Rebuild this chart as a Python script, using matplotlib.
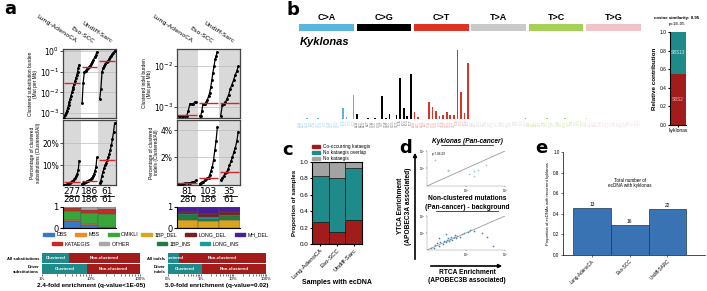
import matplotlib
matplotlib.use('Agg')
import matplotlib.pyplot as plt
from matplotlib.patches import Patch, FancyArrowPatch

W, H = 707, 291

# ---------------- data ----------------
cancers = ['Lung-AdenoCA', 'Eso-SCC', 'Undiff-Sarc']

# a: clustered substitution burden (Mut per Mb), sorted per cancer
sub_burden_lung = [0.0006, 0.0008, 0.001, 0.0013, 0.0018, 0.0025, 0.0035, 0.005, 0.007, 0.01,
                   0.014, 0.019, 0.026, 0.035, 0.05, 0.07, 0.1, 0.15, 0.22]
sub_burden_eso = [0.003, 0.03, 0.1, 0.11, 0.13, 0.15, 0.17, 0.2, 0.24, 0.3, 0.38, 0.5, 0.65, 0.9]
sub_burden_sarc = [0.005, 0.015, 0.1, 0.15, 0.2, 0.25, 0.3, 0.33, 0.4, 0.5, 0.6, 0.7, 0.85, 1.0]
sub_burden_median = [0.028, 0.17, 0.33]

# a: percentage of clustered substitutions
sub_pct_lung = [1.0, 1.1, 1.2, 1.4, 1.6, 1.8, 2.0, 2.3, 2.6, 3.0, 3.5, 4.2, 5.0, 6.2, 8.0, 12.0]
sub_pct_eso = [1.5, 1.8, 2.0, 2.3, 2.5, 2.7, 2.9, 3.1, 3.4, 3.8, 4.3, 5.0, 6.0, 7.5, 9.0, 13.5]
sub_pct_sarc = [1.8, 3.0, 5.0, 7.0, 8.5, 10, 11, 12.3, 13.5, 15, 17, 19, 22, 25, 29]
sub_pct_median = [2.3, 2.9, 12.3]

# a: clustered indel burden (Mut per Mb)
ind_burden_lung = [0.0006, 0.0006, 0.0006, 0.0006, 0.0006, 0.0006, 0.0008, 0.0012, 0.0012,
                   0.0012, 0.0013, 0.0013]
ind_burden_eso = [0.0006, 0.0006, 0.0008, 0.0012, 0.0012, 0.0012, 0.0013, 0.0015, 0.0018,
                  0.0022, 0.003, 0.0045, 0.007, 0.01, 0.015, 0.018, 0.023]
ind_burden_sarc = [0.0006, 0.0011, 0.0012, 0.0013, 0.0016, 0.002, 0.0028, 0.0035, 0.0045,
                   0.006, 0.0075, 0.01]
ind_burden_median = [0.00063, 0.00126, 0.00126]

# a: percentage of clustered indels
ind_pct_lung = [0.03, 0.05, 0.06, 0.08, 0.1, 0.12, 0.15, 0.2, 0.3]
ind_pct_eso = [0.05, 0.1, 0.15, 0.2, 0.3, 0.4, 0.45, 0.5, 0.7, 1.0, 1.3, 1.8, 2.5, 3.2, 4.2]
ind_pct_sarc = [0.3, 0.45, 0.6, 0.8, 0.9, 1.1, 1.4, 1.7, 2.0, 2.4, 2.7, 3.2, 3.9]
ind_pct_median = [0.1, 0.45, 0.9]

sub_n_clustered = [277, 186, 61]
sub_n_total = [280, 186, 61]
ind_n_clustered = [81, 103, 35]
ind_n_total = [280, 186, 61]

# a: class proportions
sub_dbs = [0.35, 0.16, 0.05]
sub_mbs = [0.02, 0.02, 0.01]
sub_omikli = [0.43, 0.55, 0.59]
sub_kataegis = [0.15, 0.12, 0.24]
sub_other = [0.05, 0.15, 0.11]

ind_1bp_del = [0.40, 0.33, 0.40]
ind_1bp_ins = [0.20, 0.12, 0.15]
ind_long_ins = [0.05, 0.07, 0.05]
ind_long_del = [0.12, 0.15, 0.15]
ind_mh_del = [0.23, 0.33, 0.25]

# a: clustered share (%) of all vs driver events
sub_rows = ['All substitutions', 'Driver\nsubstitutions']
sub_clustered_pct = [3.5, 8.4]
ind_rows = ['All indels', 'Driver\nindels']
ind_clustered_pct = [0.22, 1.1]

# b: kyklonas SBS96 signature
sig_ca = [0, 0, 1, 0, 0, 1, 0, 0, 0, 0, 0, 0, 11, 2, 0, 23]
sig_cg = [5, 0, 0, 1, 0, 1, 0, 22, 1, 5, 0, 4, 40, 11, 3, 44]
sig_ct = [7, 2, 0, 0, 17, 12, 8, 3, 4, 7, 4, 4, 67, 26, 6, 54]
sig_ta = [0, 0, 0, 0, 0, 0, 0, 0, 0, 0, 0, 0, 0, 0, 0, 1]
sig_tc = [0, 0, 0, 0, 0, 1, 0, 0, 0, 0, 1, 0, 0, 0, 0, 0]
sig_tg = [1, 0, 0, 0, 0, 0, 0, 0, 0, 0, 0, 0, 0, 0, 0, 0]
sig_blocks = ['C>A', 'C>G', 'C>T', 'T>A', 'T>C', 'T>G']
decomp_sbs2 = 0.55
decomp_sbs13 = 0.45

# c: ecDNA samples
c_cooccur = [0.27, 0.15, 0.29]
c_no_overlap = [0.56, 0.65, 0.64]
c_no_kataegis = [0.17, 0.20, 0.07]

# d: APOBEC enrichment (RTCA vs YTCA)
d_top_rtca = [0.16, 0.34, 0.35, 1.6, 2.0, 1.6, 3.2, 1.2]
d_top_ytca = [3.0, 0.8, 0.7, 0.7, 0.8, 0.35, 1.6, 0.5]
d_bot_rtca = [0.13, 0.15, 0.16, 0.2, 0.18, 0.25, 0.22, 0.28, 0.3, 0.32, 0.36, 0.4, 0.35, 0.45, 0.5,
              0.42, 0.55, 0.6, 0.52, 0.7, 0.8, 0.9, 1.1, 1.3, 1.6, 2.5, 3.5, 0.3, 0.2, 5.0]
d_bot_ytca = [0.14, 0.13, 0.2, 0.18, 0.25, 0.22, 0.3, 0.35, 0.28, 0.4, 0.33, 0.45, 0.5, 0.4, 0.55,
              0.6, 0.5, 0.7, 0.8, 0.62, 0.9, 1.0, 1.2, 1.6, 1.3, 1.0, 0.6, 0.9, 0.5, 0.18]

# e: ecDNA with recurrent kyklonas
e_labels = ['Lung-AdenoCA', 'Eso-SCC', 'Undiff-SARC']
e_prop = [0.46, 0.29, 0.45]
e_counts = [13, 16, 22]

# ---------------- helpers ----------------
fig = plt.figure(figsize=(W / 100, H / 100), dpi=100)
LS = 'Liberation Sans'


def px_axes(x0, y0, x1, y1, **kw):
    return fig.add_axes([x0 / W, 1 - y1 / H, (x1 - x0) / W, (y1 - y0) / H], **kw)


def ftext(x, y, s, **kw):
    fig.text(x / W, 1 - y / H, s, **kw)


def ls_ticks(ax):
    for t in ax.get_xticklabels() + ax.get_yticklabels():
        t.set_family(LS)


RED = '#d62728'
TEAL = '#1f8a8a'
DRED = '#a31c1c'


def dot_panel(ax, series, medians, ylim, log=True):
    for i in (0, 2):
        ax.axvspan(i - 0.5, i + 0.5, color='#d9d9d9', zorder=0, lw=0)
    for i, vals in enumerate(series):
        vals = sorted(vals)
        n = len(vals)
        xs = [i - 0.42 + 0.84 * k / (n - 1) for k in range(n)]
        ax.plot(xs, vals, '-o', color='black', ms=1.1, lw=0.9, zorder=3)
        ax.hlines(medians[i], i - 0.45, i + 0.45, color=RED, lw=1.0, zorder=4)
    if log:
        ax.set_yscale('log')
    ax.set_ylim(*ylim)
    ax.set_xlim(-0.5, 2.5)
    ax.set_xticks([])
    ax.minorticks_off()
    ax.grid(axis='y', color='#bbbbbb', lw=0.5, zorder=1)
    ax.tick_params(axis='y', labelsize=5.5, length=2, width=0.5, pad=1)
    for s in ax.spines.values():
        s.set_color('#444444')
        s.set_linewidth(0.9)


def counts(x0, x1, top, bottom):
    for i in range(3):
        xc = x0 + (x1 - x0) * (i + 0.5) / 3
        ftext(xc, 192, str(top[i]), ha='center', va='center', fontsize=6.5)
        ftext(xc, 200, str(bottom[i]), ha='center', va='center', fontsize=6.5)
        fig.add_artist(plt.Line2D([(xc - 7) / W, (xc + 7) / W], [1 - 196 / H] * 2,
                                  color='black', lw=0.6))


def stack_panel(ax, layers, colors):
    bottom = [0, 0, 0]
    for vals, col in zip(layers, colors):
        ax.bar(range(3), vals, bottom=bottom, width=1.0, color=col, edgecolor='#555555', lw=0.3)
        bottom = [b + v for b, v in zip(bottom, vals)]
    ax.set_xlim(-0.5, 2.5)
    ax.set_ylim(0, 1)
    ax.set_xticks([])
    ax.set_yticks([0, 1])
    ax.tick_params(axis='y', labelsize=6, length=2, pad=1)
    for s in ['top', 'right']:
        ax.spines[s].set_visible(False)


def legend_row(names, colors, xc, y, ncol):
    fig.legend([Patch(color=c) for c in colors], names, ncol=ncol, loc='center',
               bbox_to_anchor=(xc / W, 1 - y / H), prop={'family': LS, 'size': 3.8},
               frameon=False, handlelength=2.0, handleheight=0.55, columnspacing=1.6,
               handletextpad=0.5, borderpad=0)


def enrich_panel(ax, rows, pct, lo, ticks, ticklabels, title):
    ys = [1, 0]
    ax.barh(ys, [p - lo for p in pct], left=lo, height=0.92, color=TEAL)
    ax.barh(ys, [100 - p for p in pct], left=pct, height=0.92, color=DRED)
    ax.set_xscale('log')
    ax.set_xlim(lo, 100)
    ax.set_ylim(-0.5, 1.5)
    for y, p in zip(ys, pct):
        ax.text((lo * p) ** 0.5, y, 'Clustered', color='white', fontsize=3.2, fontweight='bold',
                ha='center', va='center', family=LS)
        ax.text((p * 100) ** 0.5, y, 'Non-clustered', color='white', fontsize=3.2,
                fontweight='bold', ha='center', va='center', family=LS)
    ax.set_yticks(ys)
    ax.set_yticklabels(rows, fontsize=3, fontweight='bold')
    ax.set_xticks(ticks)
    ax.set_xticklabels(ticklabels, fontsize=3.2)
    ls_ticks(ax)
    ax.tick_params(axis='x', which='both', length=1.5, width=0.4, pad=1)
    ax.tick_params(axis='y', length=0, pad=2)
    for s in ax.spines.values():
        s.set_visible(False)
    ax.set_xlabel(title, fontsize=4.6, fontweight='bold', labelpad=1, family=LS)


def ylab(ax, text):
    ax.set_ylabel(text, fontsize=3.5, labelpad=1, family=LS, linespacing=1.1)


# ---------------- panel a ----------------
ftext(4, 9, 'a', fontsize=13, fontweight='bold', va='center')

for x0, x1 in [(63, 116), (177, 240)]:
    for i, name in enumerate(cancers):
        xc = x0 + (x1 - x0) * (i + 0.5) / 3
        fig.text((xc + 3) / W, 1 - 44 / H, name, rotation=-33, rotation_mode='anchor',
                 ha='right', va='bottom', fontsize=4.6)

ax = px_axes(63, 49, 116, 118)
dot_panel(ax, [sub_burden_lung, sub_burden_eso, sub_burden_sarc], sub_burden_median,
          (10 ** -3.24, 10 ** 0.1))
ax.set_yticks([1e-3, 1e-2, 1e-1, 1])
ylab(ax, 'Clustered substitution burden\n(Mut per Mb)')

ax = px_axes(63, 120, 116, 185)
dot_panel(ax, [sub_pct_lung, sub_pct_eso, sub_pct_sarc], sub_pct_median, (1, 30.5), log=False)
ax.set_yticks([10, 20])
ax.set_yticklabels(['10%', '20%'])
ylab(ax, 'Percentage of clustered\nsubstitutions (Clustered/All)')

ax = px_axes(177, 49, 240, 118)
dot_panel(ax, [ind_burden_lung, ind_burden_eso, ind_burden_sarc], ind_burden_median,
          (10 ** -3.275, 10 ** -1.575))
ax.set_yticks([1e-3, 1e-2])
ylab(ax, 'Clustered indel burden\n(Mut per Mb)')

ax = px_axes(177, 120, 240, 185)
dot_panel(ax, [ind_pct_lung, ind_pct_eso, ind_pct_sarc], ind_pct_median, (-0.05, 4.75), log=False)
ax.set_yticks([2, 4])
ax.set_yticklabels(['2%', '4%'])
ylab(ax, 'Percentage of clustered\nindels (Clustered/All)')

counts(63, 116, sub_n_clustered, sub_n_total)
counts(177, 240, ind_n_clustered, ind_n_total)

sub_cols = ['#3a78c4', '#f08a24', '#3aa53a', '#c62a22', '#a8a8a8']
ax = px_axes(63, 207, 116, 228)
stack_panel(ax, [sub_dbs, sub_mbs, sub_omikli, sub_kataegis, sub_other], sub_cols)
legend_row(['DBS', 'MBS', 'OMIKLI'], sub_cols[:3], 91, 235, 3)
legend_row(['KATAEGIS', 'OTHER'], sub_cols[3:], 91, 244, 2)

ind_cols = ['#d9a520', '#1e7f3a', '#1f9a96', '#7a1e22', '#4b1e99']
ax = px_axes(177, 207, 240, 228)
stack_panel(ax, [ind_1bp_del, ind_1bp_ins, ind_long_ins, ind_long_del, ind_mh_del], ind_cols)
legend_row(['1BP_DEL', 'LONG_DEL', 'MH_DEL'], [ind_cols[0], ind_cols[3], ind_cols[4]], 205, 235, 3)
legend_row(['1BP_INS', 'LONG_INS'], [ind_cols[1], ind_cols[2]], 198, 244, 2)

ax = px_axes(42, 253, 140, 274)
enrich_panel(ax, sub_rows, sub_clustered_pct, 1, [1, 10, 100], ['1%', '10%', '100%'],
             '2.4-fold enrichment (q-value<1E-05)')
ax = px_axes(168, 253, 266, 274)
enrich_panel(ax, ind_rows, ind_clustered_pct, 0.1, [0.1, 1, 10, 100],
             ['0%', '1%', '10%', '100%'], '5.0-fold enrichment (q-value=0.02)')

# ---------------- panel b ----------------
ftext(287, 10, 'b', fontsize=13, fontweight='bold', va='center')
blk_cols = ['#5ab4dc', '#000000', '#dd3327', '#c9c9c9', '#a8cf58', '#efc4c8']
lbl_cols = ['#9fd3ea', '#777777', '#ee9a92', '#dddddd', '#cfe4a0', '#f5dadd']

ax = px_axes(298, 24, 642, 31)
for i, (name, col) in enumerate(zip(sig_blocks, blk_cols)):
    ax.bar(i * 16 + 7.5, 1, width=15.2, color=col)
    ax.text(i * 16 + 7.5, 1.25, name, ha='center', va='bottom', fontsize=6.5, fontweight='bold',
            family=LS)
ax.set_xlim(-0.5, 95.5)
ax.set_ylim(0, 1)
ax.axis('off')

ax = px_axes(298, 47, 642, 119)
sig_all = [sig_ca, sig_cg, sig_ct, sig_ta, sig_tc, sig_tg]
for b, vals in enumerate(sig_all):
    ref = sig_blocks[b][0]
    xs = [b * 16 + k for k in range(16)]
    ax.bar(xs, vals, width=0.45, color=blk_cols[b] if b != 3 else '#999999')
    ctx = [f'{p}{ref}{q}' for p in 'ACGT' for q in 'ACGT']
    for x, c in zip(xs, ctx):
        ax.text(x, -1.5, c, rotation=90, fontsize=2.2, ha='center', va='top', color=lbl_cols[b])
ax.set_xlim(-0.5, 95.5)
ax.set_ylim(0, 70)
ax.axis('off')
ftext(300, 42, 'Kyklonas', fontsize=8, fontweight='bold', style='italic', va='center', family=LS)

ax = px_axes(670, 32, 686, 125)
ax.bar([0], [decomp_sbs2], width=1, color=DRED)
ax.bar([0], [decomp_sbs13], bottom=[decomp_sbs2], width=1, color=TEAL)
ax.text(0, decomp_sbs2 / 2, 'SBS2', color='#f4b0b0', fontsize=3.3, ha='center', va='center',
        family=LS)
ax.text(0, decomp_sbs2 + decomp_sbs13 / 2, 'SBS13', color='#cdeeee', fontsize=3.3,
        ha='center', va='center', family=LS)
ax.set_xlim(-0.5, 0.5)
ax.set_ylim(0, 1)
ax.set_yticks([0, 0.2, 0.4, 0.6, 0.8, 1.0])
ax.tick_params(labelsize=3.5, length=1.5, pad=1)
ax.set_xticks([0])
ax.set_xticklabels(['kyklonas'], fontsize=3.5)
ls_ticks(ax)
ax.set_ylabel('Relative contribution', fontsize=4.5, labelpad=2, family=LS, fontweight='bold')
for s in ['top', 'right']:
    ax.spines[s].set_visible(False)
ftext(677, 18, 'cosine similarity: 0.95', ha='center', va='center', fontsize=3.2,
      fontweight='bold', family=LS)
ftext(677, 24, 'p=1E-05', ha='center', va='center', fontsize=3.2, family=LS)

# ---------------- panel c ----------------
ftext(282, 150, 'c', fontsize=13, fontweight='bold', va='center')
ax = px_axes(312, 162, 362, 244)
c_cols = [DRED, TEAL, '#a3a3a3']
bottom = [0, 0, 0]
for vals, col in zip([c_cooccur, c_no_overlap, c_no_kataegis], c_cols):
    ax.bar(range(3), vals, bottom=bottom, width=1.0, color=col, edgecolor='black', lw=0.4)
    bottom = [b + v for b, v in zip(bottom, vals)]
ax.set_xlim(-0.5, 2.5)
ax.set_ylim(0, 1.0)
ax.set_yticks([0, 0.2, 0.4, 0.6, 0.8, 1.0])
ax.tick_params(labelsize=4.5, length=1.5, pad=1)
ax.set_xticks(range(3))
ax.set_xticklabels(cancers, rotation=45, ha='right', rotation_mode='anchor', fontsize=4.3)
ls_ticks(ax)
ax.set_ylabel('Proportion of samples', fontsize=4.5, fontweight='bold', labelpad=2, family=LS)
ax.legend([Patch(color=c) for c in c_cols],
          ['Co-occurring kataegis', 'No kataegis overlap', 'No kataegis'],
          loc='lower left', bbox_to_anchor=(0, 1.01), prop={'family': LS, 'size': 3.4},
          frameon=False, handlelength=1.6, handleheight=0.6, labelspacing=0.25, borderpad=0,
          borderaxespad=0)
ftext(337, 283, 'Samples with ecDNA', ha='center', va='center', fontsize=5, fontweight='bold',
      family=LS)

# ---------------- panel d ----------------
ftext(399, 148, 'd', fontsize=13, fontweight='bold', va='center')
ftext(467, 141, 'Kyklonas (Pan-cancer)', ha='center', va='center', fontsize=4.8,
      fontweight='bold', style='italic', family=LS)
fig.add_artist(plt.Line2D([441 / W, 493 / W], [1 - 144.5 / H] * 2, color='black', lw=0.5))

for (y0, y1), xs, ys, col in [((151, 186), d_top_rtca, d_top_ytca, '#9ec5e0'),
                              ((216, 250), d_bot_rtca, d_bot_ytca, '#3f86c0')]:
    ax = px_axes(427, y0, 505, y1)
    ax.scatter(xs, ys, s=1.5, color=col, lw=0)
    ax.plot([0.1, 10], [0.1, 10], color='#999999', lw=0.6)
    ax.set_xscale('log')
    ax.set_yscale('log')
    ax.set_xlim(0.1, 10)
    ax.set_ylim(0.1, 10)
    ax.set_xticks([1, 10])
    ax.set_yticks([1, 10])
    ax.tick_params(which='both', labelsize=2, length=1, width=0.3, pad=0.3)
    ax.minorticks_off()
    for s in ['top', 'right']:
        ax.spines[s].set_visible(False)
    for s in ['left', 'bottom']:
        ax.spines[s].set_linewidth(0.3)
        ax.spines[s].set_color('#888888')
    if y0 == 151:
        ax.text(0.13, 6, 'p=7.0E-03', fontsize=2.2, family=LS)

ftext(467, 199, 'Non-clustered mutations', ha='center', va='center', fontsize=4.8, fontweight='bold',
      family=LS)
ftext(467, 207.5, '(Pan-cancer) - background', ha='center', va='center', fontsize=4.8,
      fontweight='bold', family=LS)
fig.add_artist(plt.Line2D([436 / W, 498 / W], [1 - 211 / H] * 2, color='black', lw=0.5))

fig.add_artist(FancyArrowPatch((415 / W, 1 - 262 / H), (415 / W, 1 - 150 / H),
                               transform=fig.transFigure, arrowstyle='-|>',
                               mutation_scale=5, lw=1.2, color='black'))
fig.add_artist(FancyArrowPatch((428 / W, 1 - 266 / H), (505 / W, 1 - 266 / H),
                               transform=fig.transFigure, arrowstyle='-|>',
                               mutation_scale=5, lw=1.2, color='black'))
ftext(405, 206, 'YTCA Enrichment\n(APOBEC3A associated)', rotation=90, ha='center', va='center',
      fontsize=4.8, fontweight='bold', linespacing=1.2, family=LS)
ftext(467, 277, 'RTCA Enrichment\n(APOBEC3B associated)', ha='center', va='center',
      fontsize=4.8, fontweight='bold', linespacing=1.2, family=LS)

# ---------------- panel e ----------------
ftext(535, 148, 'e', fontsize=13, fontweight='bold', va='center')
ax = px_axes(563, 152, 705, 255)
ax.bar(range(3), e_prop, width=1.0, color='#3a73b4', edgecolor='#1d3550', lw=0.5)
for i, (p, n) in enumerate(zip(e_prop, e_counts)):
    ax.text(i, p + 0.01, str(n), ha='center', va='bottom', fontsize=3.5, family=LS)
ax.text(1, 0.7, 'Total number of\necDNA with kyklonas', ha='center', va='center', fontsize=3.3,
        family=LS)
ax.set_xlim(-0.77, 3.0)
ax.set_ylim(0, 1.0)
ax.set_yticks([0, 0.2, 0.4, 0.6, 0.8, 1.0])
ax.tick_params(labelsize=3.3, length=1.5, width=0.4, pad=1)
ax.set_xticks(range(3))
ax.set_xticklabels(e_labels, rotation=45, ha='right', rotation_mode='anchor', fontsize=3.3)
ls_ticks(ax)
ax.set_ylabel('Proportion of ecDNAs with recurrent kyklonas', fontsize=3, labelpad=2, family=LS)
for s in ['top', 'right']:
    ax.spines[s].set_visible(False)
for s in ['left', 'bottom']:
    ax.spines[s].set_linewidth(0.5)

fig.savefig('out.png', dpi=100)
